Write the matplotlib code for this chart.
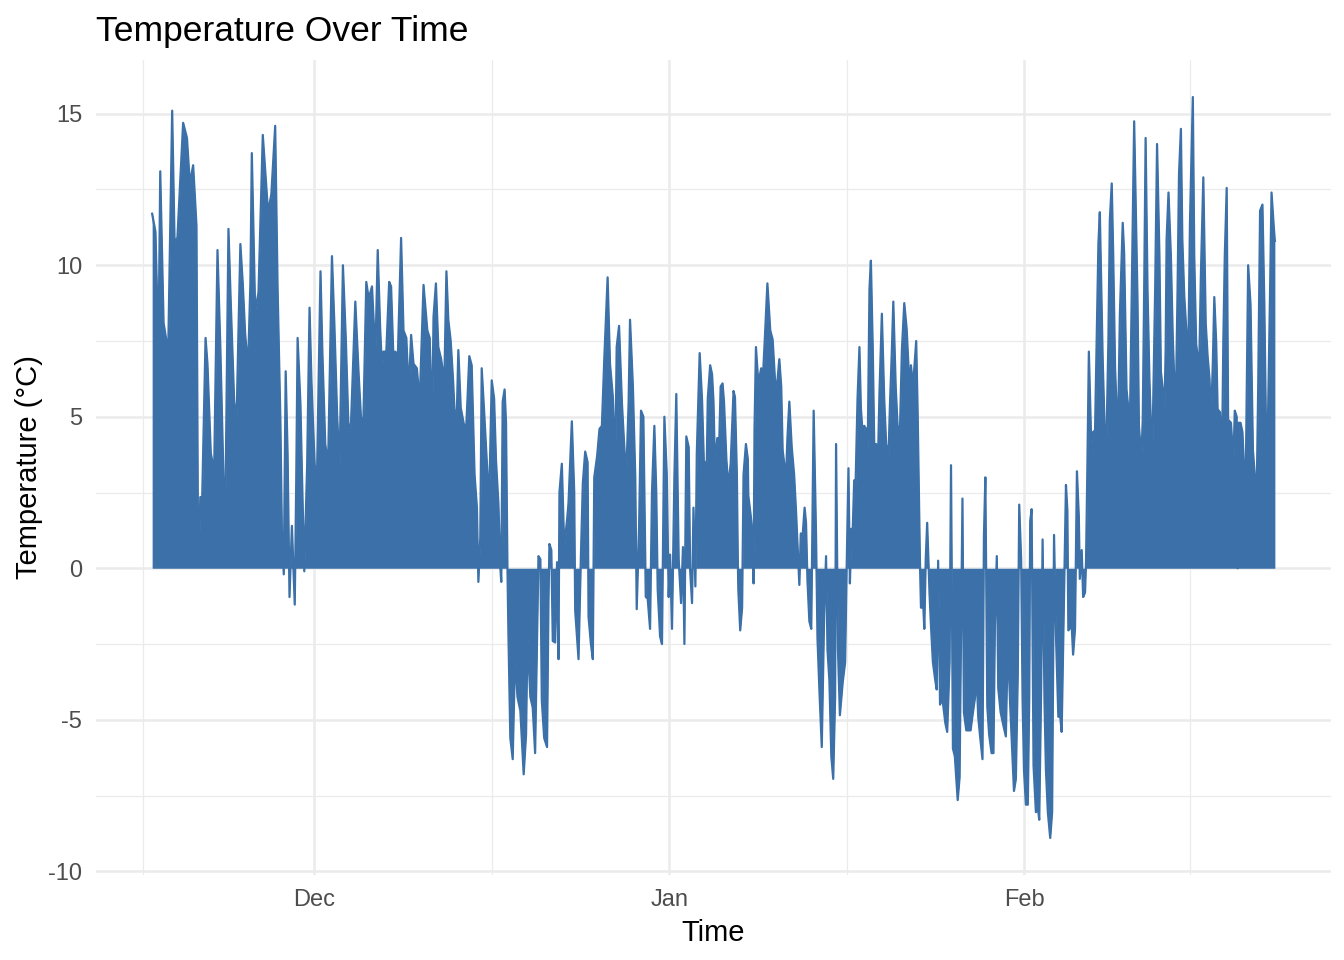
import numpy as np
import pandas as pd
import matplotlib
matplotlib.use("Agg")
import matplotlib.pyplot as plt
import matplotlib.dates as mdates
from matplotlib.ticker import FixedLocator

plt.rcParams["font.family"] = ["Liberation Sans", "DejaVu Sans"]

# hourly readings (hours after 16 Nov 2023 00:00) and temperatures
start = pd.Timestamp("2023-11-16 00:00")
hours = [
    20, 27, 30, 34, 37, 44, 50, 53, 62, 67, 73, 85, 93, 99, 106, 113, 116, 118, 121, 125,
    132, 136, 143, 150, 157, 163, 170, 174, 180, 185, 192, 197, 205, 210, 215, 221, 226, 229, 236, 243,
    252, 259, 263, 270, 278, 283, 289, 292, 296, 300, 304, 308, 313, 319, 322, 325, 331, 334, 339, 345,
    350, 354, 357, 361, 366, 373, 377, 383, 389, 397, 402, 408, 413, 420, 426, 432, 437, 446, 453, 458,
    463, 469, 474, 481, 488, 493, 498, 502, 505, 511, 517, 521, 526, 530, 535, 542, 547, 553, 558, 563,
    568, 575, 581, 589, 597, 602, 607, 610, 615, 620, 626, 630, 632, 637, 641, 646, 651, 654, 659, 662,
    667, 673, 678, 681, 685, 690, 696, 701, 704, 708, 711, 716, 720, 724, 727, 732, 737, 741, 746, 750,
    752, 755, 759, 762, 765, 767, 771, 776, 781, 786, 792, 799, 804, 807, 813, 818, 823, 827, 830, 834,
    837, 842, 848, 851, 853, 857, 860, 865, 869, 872, 874, 879, 884, 890, 893, 900, 905, 907, 914, 919,
    923, 928, 933, 935, 940, 944, 947, 953, 958, 963, 968, 975, 980, 986, 991, 994, 999, 1005, 1010, 1014,
    1019, 1022, 1028, 1033, 1036, 1041, 1045, 1050, 1055, 1059, 1064, 1068, 1073, 1077, 1080, 1085, 1089, 1094, 1099, 1103,
    1106, 1110, 1115, 1119, 1124, 1129, 1133, 1136, 1140, 1145, 1148, 1152, 1155, 1159, 1162, 1168, 1173, 1177, 1183, 1185,
    1190, 1194, 1197, 1200, 1205, 1209, 1212, 1216, 1219, 1224, 1228, 1233, 1239, 1242, 1246, 1248, 1249, 1253, 1257, 1260,
    1265, 1269, 1270, 1275, 1279, 1281, 1283, 1286, 1291, 1297, 1300, 1305, 1310, 1316, 1321, 1326, 1330, 1335, 1339, 1342,
    1346, 1349, 1352, 1356, 1361, 1366, 1370, 1374, 1377, 1380, 1384, 1388, 1391, 1394, 1398, 1402, 1407, 1412, 1415, 1419,
    1424, 1429, 1433, 1436, 1440, 1444, 1448, 1452, 1454, 1458, 1462, 1468, 1473, 1476, 1480, 1483, 1486, 1489, 1492, 1495,
    1499, 1503, 1506, 1510, 1513, 1517, 1520, 1524, 1527, 1531, 1534, 1538, 1541, 1545, 1550, 1555, 1559, 1564, 1567, 1571,
    1574, 1579, 1583, 1588, 1592, 1597, 1602, 1606, 1609, 1611, 1615, 1618, 1622, 1625, 1628, 1630, 1632, 1637, 1639, 1642,
    1645, 1650, 1653, 1657, 1662, 1665, 1668, 1672, 1677, 1683, 1687, 1692, 1695, 1699, 1703, 1709, 1713, 1715, 1719, 1722,
    1727, 1736, 1741, 1745, 1749, 1752, 1756, 1761, 1764, 1767, 1771, 1775, 1780, 1784, 1787, 1791, 1794, 1799, 1805, 1810,
    1814, 1819, 1824, 1827, 1831, 1835, 1838, 1842, 1845, 1848, 1852, 1856, 1859, 1861, 1864, 1868, 1873, 1877, 1880, 1884,
    1887, 1891, 1894, 1898, 1903, 1907, 1911, 1915, 1920, 1924, 1927, 1930, 1936, 1939, 1941, 1948, 1951, 1955, 1959, 1963,
    1965, 1969, 1972, 1976, 1978, 1981, 1984, 1989, 1993, 1997, 2000, 2004, 2007, 2013, 2018, 2021, 2025, 2028, 2032, 2035,
    2039, 2042, 2046, 2049, 2055, 2058, 2063, 2067, 2070, 2074, 2079, 2083, 2086, 2089, 2094, 2097, 2100, 2103, 2107, 2111,
    2114, 2117, 2123, 2127, 2132, 2135, 2139, 2142, 2145, 2147, 2151, 2156, 2160, 2163, 2167, 2170, 2173, 2177, 2180, 2184,
    2189, 2193, 2196, 2202, 2205, 2209, 2212, 2215, 2219, 2224, 2229, 2233, 2237, 2240, 2244, 2247, 2251, 2254, 2259, 2263,
    2266, 2269, 2273, 2276, 2282, 2287, 2290, 2294, 2296, 2298, 2302, 2306, 2309, 2313, 2318, 2323, 2328, 2332, 2336, 2339,
    2343, 2348, 2352, 2355, 2359, 2364, 2367, 2372, 2374,
]
temps = [
    11.7, 11.1, 9.2, 8.3, 13.1, 8.1, 7.5, 6.5, 15.1, 10.8, 10.9, 14.7, 14.2, 12.7, 13.3, 11.3, 1.5, 0.2, 2.35, 2.35,
    7.6, 6.75, 3.8, 3.2, 10.5, 7.3, 2.7, 2.6, 11.2, 8.7, 5.5, 4.9, 10.7, 9.4, 7.75, 6.6, 9.4, 13.7, 8.5, 9.1,
    14.3, 12.7, 11.75, 12.35, 14.6, 9.3, 4.8, 1.25, -0.2, 6.5, 3.8, -0.95, 1.4, -1.2, 2.7, 7.6, 5.4, 3.2, -0.1, 3.4,
    8.6, 6.2, 4.9, 3.35, 3.35, 9.8, 7.1, 4.1, 3.45, 10.3, 8.1, 5.0, 3.35, 10.0, 7.6, 4.5, 4.8, 8.8, 6.4, 4.95,
    4.95, 9.45, 8.9, 9.3, 7.0, 10.5, 7.95, 6.6, 7.15, 7.15, 9.45, 9.3, 6.9, 7.15, 6.9, 10.9, 7.85, 7.6, 5.8, 7.7,
    6.75, 6.6, 5.5, 9.35, 7.85, 7.6, 4.6, 8.3, 9.4, 7.3, 6.9, 6.45, 5.6, 9.8, 8.2, 7.5, 6.2, 5.2, 5.2, 7.2,
    5.3, 4.8, 4.5, 5.5, 7.0, 6.7, 3.1, 2.0, -0.45, 1.0, 6.6, 5.2, 4.0, 2.85, 2.5, 6.2, 5.6, 3.55, 2.15, 0.05,
    -0.45, 5.5, 5.9, 4.8, 0.0, -2.15, -5.6, -6.3, -2.85, -4.25, -4.7, -6.8, -5.5, -2.25, -4.25, -4.6, -6.1, -2.5, 0.4, 0.3,
    -4.35, -5.6, -5.9, -1.1, 0.8, 0.6, -2.4, -2.45, 0.2, -3.0, 2.5, 3.45, 0.7, 1.6, 2.15, 4.85, 2.5, -1.4, -3.0, 0.4,
    2.8, 3.85, 3.5, -1.6, -2.5, -3.0, 3.0, 3.7, 4.6, 4.7, 6.9, 9.6, 6.75, 5.65, 3.35, 7.3, 8.0, 5.45, 4.0, 3.0,
    5.45, 8.2, 6.0, 3.0, -1.35, 1.4, 5.2, 5.0, -0.95, -1.0, -2.0, 2.5, 4.7, 2.5, -0.7, -2.25, -2.5, 5.0, 3.1, -0.95,
    0.45, -2.0, 3.0, 5.75, 0.3, -1.15, 0.7, -2.5, 4.35, 4.0, -0.05, -1.15, 2.0, -0.6, 3.8, 7.1, 5.55, 3.4, 3.55, 5.6,
    6.7, 6.4, 5.5, 3.45, 4.3, 4.15, 6.0, 6.1, 5.5, 3.6, 2.7, 3.45, 5.85, 5.65, 3.1, 0.3, -0.7, -2.05, -1.3, 3.1,
    4.1, 3.6, 2.4, 1.75, 1.1, -0.5, 4.6, 7.3, 6.1, 6.6, 6.1, 7.7, 9.4, 7.85, 7.55, 6.2, 6.0, 6.9, 6.0, 3.9,
    3.35, 3.0, 4.3, 5.5, 4.0, 3.1, 1.9, 0.5, -0.55, 1.15, 1.1, 2.0, 1.5, -0.4, -1.75, -2.0, 5.2, 1.1, -2.3, -4.0,
    -5.9, -1.55, 0.4, -2.7, -3.7, -6.2, -6.95, -4.25, 4.1, -2.7, -4.85, -3.75, -3.1, -0.15, 3.3, -0.5, 1.3, 1.3, 2.9, 2.85,
    5.6, 7.3, 5.3, 4.35, 4.7, 4.6, 3.4, 9.2, 10.15, 7.2, 4.1, 4.1, 2.95, 5.8, 8.4, 5.55, 4.1, 3.75, 5.4, 7.2,
    8.8, 6.0, 4.7, 4.6, 7.2, 8.75, 7.9, 6.6, 6.1, 6.7, 6.0, 6.6, 7.5, 5.2, 2.2, 0.1, -1.3, -1.3, -2.0, 0.3,
    1.5, -0.85, -1.9, -3.1, -3.7, -4.0, 0.25, -4.5, -4.3, -5.1, -5.4, -3.1, 3.4, -5.95, -6.2, -7.65, -6.9, -3.7, 2.3, -4.75,
    -5.35, -5.35, -4.75, -4.3, -3.6, -4.9, -5.55, -6.3, 1.05, 3.0, -4.55, -5.5, -6.1, -6.1, -1.9, 0.4, -3.95, -4.75, -5.2, -5.55,
    -2.4, -4.5, -6.3, -7.35, -6.95, -3.5, 2.1, 0.3, -4.3, -6.65, -7.8, -7.8, -4.3, 1.55, 1.95, -6.5, -8.05, -7.9, -8.3, -3.95,
    0.95, -4.4, -6.65, -8.05, -8.9, -8.05, 1.1, -2.2, -4.9, -4.9, -5.4, -2.7, 2.75, 1.9, -2.05, -1.9, -2.85, -2.0, 3.2, 1.7,
    -0.35, 0.6, -0.95, -0.8, 0.15, 3.45, 7.15, 4.1, 4.5, 4.55, 7.25, 10.7, 11.75, 6.9, 4.1, 4.25, 7.55, 11.5, 12.7, 10.4,
    6.6, 5.35, 5.35, 8.35, 11.4, 10.4, 5.9, 5.25, 4.7, 9.2, 14.75, 11.4, 8.9, 4.7, 3.6, 4.9, 9.2, 14.2, 9.2, 6.25,
    4.8, 3.7, 9.2, 14.0, 10.3, 6.5, 5.9, 4.8, 7.2, 10.85, 12.4, 10.3, 7.6, 6.25, 6.1, 9.2, 13.0, 14.5, 10.85, 9.0,
    7.7, 7.65, 11.4, 15.55, 10.3, 7.4, 7.0, 6.35, 9.75, 12.9, 8.1, 7.0, 6.25, 4.8, 6.8, 8.95, 7.45, 5.25, 5.15, 3.4,
    7.55, 10.3, 12.55, 4.9, 4.8, 3.5, 5.2, 5.0, 0.0, 4.8, 4.8, 4.5, 3.45, 3.0, 10.0, 8.7, 3.9, 3.05, 2.6, 5.9,
    11.8, 12.0, 8.65, 5.1, 4.35, 9.2, 12.4, 11.2, 10.8,
]

df = pd.DataFrame({"time": start + pd.to_timedelta(hours, unit="h"), "temp": temps})

bar_color = "#3B70A8"
grid_color = "#EBEBEB"

fig = plt.figure(figsize=(13.44, 9.6), dpi=100)
fig.patch.set_facecolor("white")
ax = fig.add_axes([96 / 1344, 1 - 875 / 960, (1331 - 96) / 1344, (875 - 60) / 960])

x = mdates.date2num(df["time"])
ax.fill_between(x, 0, df["temp"], color=bar_color, linewidth=0, zorder=3)
ax.plot(x, df["temp"], color=bar_color, linewidth=1.6, zorder=3)

# ggplot-style 5% expansion
xr = x.max() - x.min()
ax.set_xlim(x.min() - 0.05 * xr, x.max() + 0.05 * xr)
yr = df["temp"].max() - df["temp"].min()
ax.set_ylim(df["temp"].min() - 0.05 * yr, df["temp"].max() + 0.05 * yr)

months = pd.to_datetime(["2023-11-01", "2023-12-01", "2024-01-01", "2024-02-01", "2024-03-01"])
mnum = mdates.date2num(months)
ax.xaxis.set_major_locator(FixedLocator(mnum[1:4]))
ax.set_xticklabels(["Dec", "Jan", "Feb"])
ax.xaxis.set_minor_locator(FixedLocator((mnum[:-1] + mnum[1:]) / 2))

ax.set_yticks([-10, -5, 0, 5, 10, 15])
ax.set_yticklabels(["-10", "-5", "0", "5", "10", "15"])
ax.yaxis.set_minor_locator(FixedLocator([-7.5, -2.5, 2.5, 7.5, 12.5]))

ax.grid(which="major", color=grid_color, linewidth=1.8)
ax.grid(which="minor", color=grid_color, linewidth=0.9)
ax.set_axisbelow(True)
for s in ax.spines.values():
    s.set_visible(False)

ax.tick_params(which="both", length=0)
ax.tick_params(axis="y", pad=10, labelsize=17, labelcolor="#4D4D4D")
ax.tick_params(axis="x", pad=10, labelsize=17, labelcolor="#4D4D4D")

ax.set_xlabel("Time", fontsize=21, labelpad=6)
ax.set_ylabel("Temperature (°C)", fontsize=21, labelpad=4)
ax.set_title("Temperature Over Time", loc="left", fontsize=25.5, pad=14)

fig.savefig("out.png", dpi=100)
